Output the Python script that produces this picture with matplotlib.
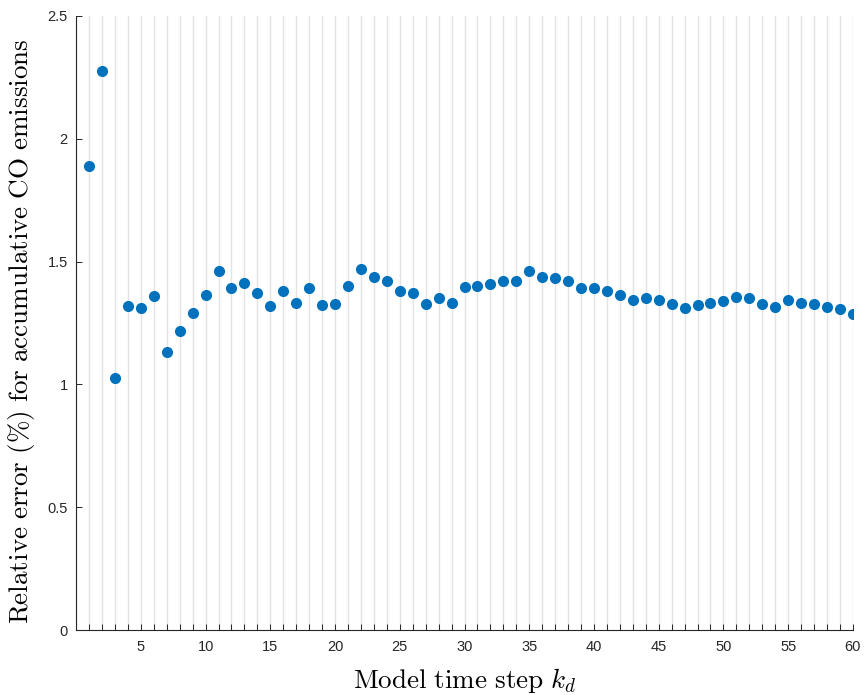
import matplotlib.pyplot as plt
from matplotlib.ticker import MultipleLocator

plt.rcParams['mathtext.fontset'] = 'cm'
plt.rcParams['font.family'] = ['Liberation Sans', 'DejaVu Sans']

# relative error per model time step
steps = list(range(1, 61))
rel_err = [1.891, 2.274, 1.025, 1.318, 1.313, 1.359, 1.131, 1.217, 1.291, 1.365,
           1.461, 1.393, 1.413, 1.371, 1.318, 1.381, 1.333, 1.393, 1.324, 1.329,
           1.402, 1.471, 1.439, 1.419, 1.381, 1.371, 1.328, 1.350, 1.333, 1.396,
           1.401, 1.408, 1.419, 1.419, 1.461, 1.439, 1.434, 1.423, 1.392, 1.392,
           1.381, 1.363, 1.344, 1.350, 1.344, 1.328, 1.312, 1.323, 1.333, 1.339,
           1.354, 1.350, 1.328, 1.317, 1.344, 1.333, 1.328, 1.317, 1.306, 1.285]

xtick_vals = list(range(5, 61, 5))
ytick_vals = [0, 0.5, 1, 1.5, 2, 2.5]
ytick_labels = ['0', '0.5', '1', '1.5', '2', '2.5']

fig = plt.figure(figsize=(8.65, 6.95), dpi=100)
ax = fig.add_axes([0.088, 0.0935, 0.898, 0.8835])

dark = '#262626'
ax.plot(steps, rel_err, 'o', color='#0072BD', markersize=7, zorder=3)

ax.set_xlim(0, 60)
ax.set_ylim(0, 2.5)
ax.set_xticks(xtick_vals)
ax.xaxis.set_minor_locator(MultipleLocator(1))
ax.set_yticks(ytick_vals)
ax.set_yticklabels(ytick_labels)

ax.grid(axis='x', which='both', color='#e3e3e3', linewidth=1.0, zorder=0)
ax.set_axisbelow(True)

for side in ['top', 'right']:
    ax.spines[side].set_visible(False)
for side in ['left', 'bottom']:
    ax.spines[side].set_color(dark)
    ax.spines[side].set_linewidth(0.8)

ax.tick_params(which='both', direction='in', colors=dark, labelsize=10.5, width=0.7)
ax.tick_params(which='major', length=4)
ax.tick_params(which='minor', length=4)
ax.tick_params(axis='x', pad=7)
ax.tick_params(axis='y', pad=6)

ax.set_xlabel(r'$\mathrm{Model\ time\ step\ }k_d$', fontsize=19.5, labelpad=9)
ax.set_ylabel(r'$\mathrm{Relative\ error\ (\%)\ for\ accumulative\ CO\ emissions}$',
              fontsize=19.5)
ax.yaxis.set_label_coords(-0.05, 0.487)

fig.savefig('out.png', dpi=100)
